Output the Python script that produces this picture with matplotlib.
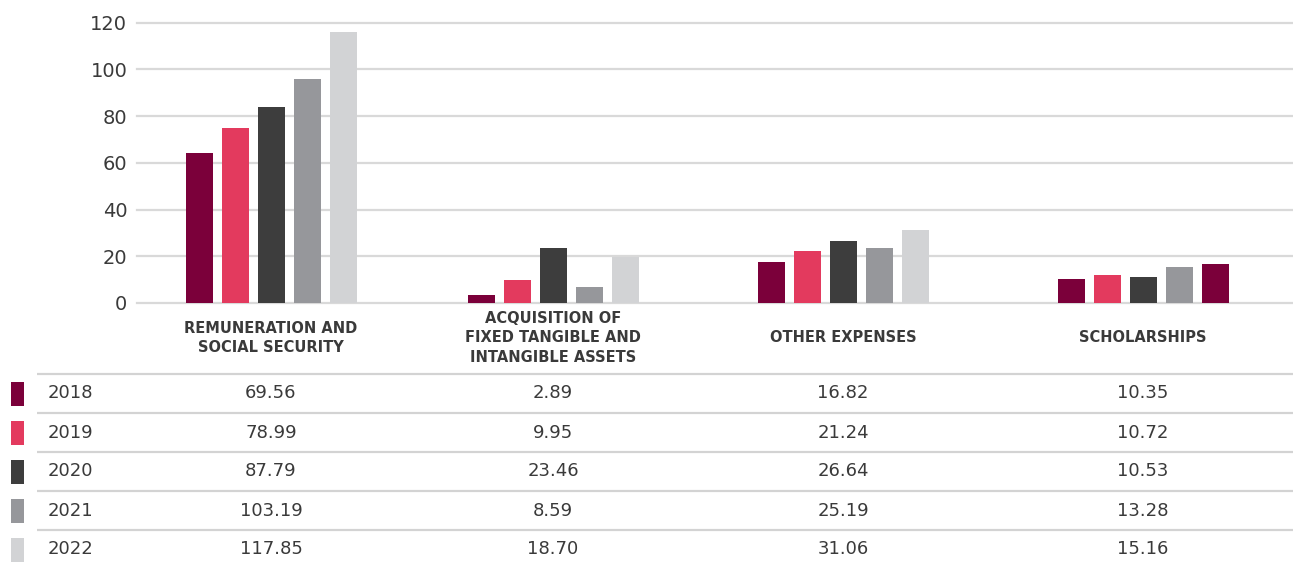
import numpy as np
import matplotlib
matplotlib.use("Agg")
import matplotlib.pyplot as plt
from matplotlib.patches import Rectangle

# categorie e anni
categories = ["REMUNERATION AND\nSOCIAL SECURITY",
              "ACQUISITION OF\nFIXED TANGIBLE AND\nINTANGIBLE ASSETS",
              "OTHER EXPENSES",
              "SCHOLARSHIPS"]
years = ["2018", "2019", "2020", "2021", "2022"]

# altezze delle barre
bars_2018 = [64.2, 3.4, 17.5, 10.3]
bars_2019 = [74.9, 9.8, 22.3, 12.0]
bars_2020 = [83.9, 23.5, 26.5, 11.1]
bars_2021 = [95.9, 6.8, 23.5, 15.4]
bars_2022 = [116.0, 19.6, 31.2, 16.7]

# valori della tabella
table_2018 = ["69.56", "2.89", "16.82", "10.35"]
table_2019 = ["78.99", "9.95", "21.24", "10.72"]
table_2020 = ["87.79", "23.46", "26.64", "10.53"]
table_2021 = ["103.19", "8.59", "25.19", "13.28"]
table_2022 = ["117.85", "18.70", "31.06", "15.16"]

yticks = [0, 20, 40, 60, 80, 100, 120]

# colori per anno; l'ultima barra di SCHOLARSHIPS nel grafico e' bordeaux
colors = ["#7b003a", "#e33a5e", "#3d3d3d", "#96979b", "#d2d3d5"]
series = [bars_2018, bars_2019, bars_2020, bars_2021, bars_2022]
tables = [table_2018, table_2019, table_2020, table_2021, table_2022]

text_col = "#3a3a3a"
grid_col = "#d9d9d9"

W, H = 1293, 568
fig = plt.figure(figsize=(W / 100, H / 100), dpi=100)

# layout in pixel
col_x = [271, 553, 843, 1143]
pitch, width = 36, 27
ax_left, ax_top, ax_bottom = 137, 22.7, 303

ax = fig.add_axes([ax_left / W, 1 - ax_bottom / H, 1 - ax_left / W, (ax_bottom - ax_top) / H])
ax.set_xlim(ax_left, W)
ax.set_ylim(0, 120)

for i, vals in enumerate(series):
    cols = [colors[i]] * len(vals)
    if i == 4:
        cols[3] = colors[0]
    xs = [c + (i - 2) * pitch for c in col_x]
    ax.bar(xs, vals, width=width, color=cols, zorder=3)

ax.set_yticks(yticks)
ax.set_xticks([])
ax.yaxis.grid(True, color=grid_col, linewidth=1.6)
ax.set_axisbelow(True)
for gl in ax.get_ygridlines():
    gl.set_clip_on(False)
for s in ax.spines.values():
    s.set_visible(False)
ax.tick_params(axis="y", length=0, pad=7, labelsize=14, labelcolor=text_col)

# etichette categorie e tabella in coordinate pixel
tab = fig.add_axes([0, 0, 1, 1])
tab.set_xlim(0, W)
tab.set_ylim(H, 0)
tab.axis("off")

for x, lab in zip(col_x, categories):
    tab.text(x, 338, lab, ha="center", va="center", fontsize=10.5, fontweight="bold",
             color=text_col, linespacing=1.4)

row0, step = 374, 39
for i, (yr, vals) in enumerate(zip(years, tables)):
    yl = row0 + i * step
    tab.plot([37, W], [yl, yl], color="#d3d3d3", linewidth=1.6, solid_capstyle="butt")
    yc = yl + 19.5
    tab.add_patch(Rectangle((11, yc - 12), 13, 24, color=colors[i], linewidth=0))
    tab.text(48, yc, yr, ha="left", va="center", fontsize=13, color=text_col)
    for x, v in zip(col_x, vals):
        tab.text(x, yc, v, ha="center", va="center", fontsize=13, color=text_col)

fig.savefig("out.png", dpi=100)
